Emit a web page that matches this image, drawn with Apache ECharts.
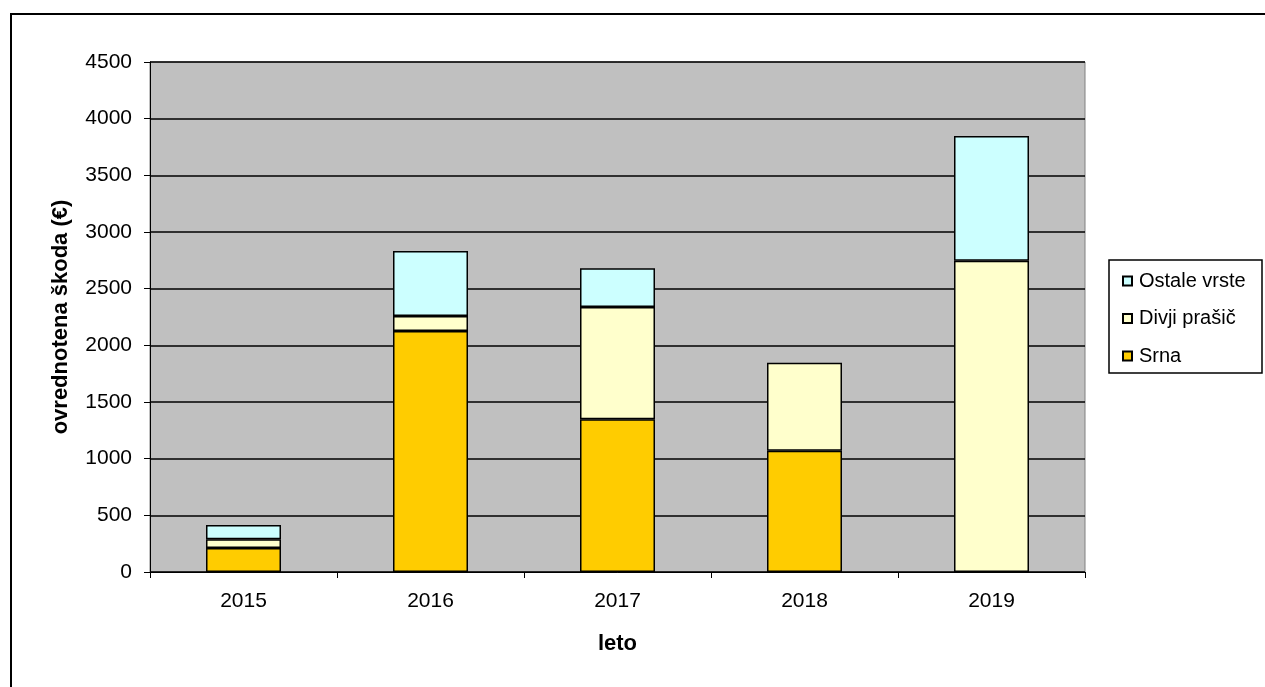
<!DOCTYPE html>
<html><head><meta charset="utf-8">
<script src="https://cdn.jsdelivr.net/npm/echarts@6/dist/echarts.min.js"></script>
<style>html,body{margin:0;padding:0;background:#fff}#c{width:1265px;height:687px}</style>
</head><body><div id="c"></div>
<script>
const categories = ['2015','2016','2017','2018','2019'];
const srna = [212, 2127, 1347, 1070, null];
const divjiPrasic = [76, 132, 991, 777, 2747];
const ostaleVrste = [127, 573, 342, null, 1100];
const yTicks = [0, 500, 1000, 1500, 2000, 2500, 3000, 3500, 4000, 4500];

const chart = echarts.init(document.getElementById('c'));
const font = 'Liberation Sans, Arial, sans-serif';
const bar = (name, data, color) => ({
  name, type: 'bar', stack: 'a', data, barWidth: 75,
  itemStyle: {color, borderColor: '#000', borderWidth: 1.5},
  emphasis: {disabled: true}
});
chart.setOption({
  animation: false,
  textStyle: {fontFamily: font},
  graphic: [
    {type: 'rect', shape: {x: 11, y: 14, width: 1270, height: 690}, style: {fill: 'none', stroke: '#000', lineWidth: 2}, silent: true},
    {type: 'rect', shape: {x: 150, y: 62, width: 935, height: 510}, style: {fill: '#c0c0c0', stroke: '#808080', lineWidth: 1}, silent: true, z: -10},
    {type: 'rect', shape: {x: 1109, y: 260, width: 153, height: 113}, style: {fill: '#fff', stroke: '#000', lineWidth: 1.5}, silent: true, z: -5}
  ],
  grid: {left: 150, top: 62, width: 935, height: 510},
  xAxis: {type: 'category', data: categories,
    axisLine: {lineStyle: {color: '#000', width: 1}},
    axisTick: {show: true, length: 6, lineStyle: {color: '#000'}},
    axisLabel: {color: '#000', fontSize: 21, margin: 19, fontFamily: font},
    name: 'leto', nameLocation: 'middle', nameGap: 61,
    nameTextStyle: {color: '#000', fontSize: 22, fontWeight: 'bold', fontFamily: font}},
  yAxis: {type: 'value', min: yTicks[0], max: yTicks[yTicks.length-1], interval: 500,
    axisLine: {show: true, lineStyle: {color: '#000', width: 1}},
    axisTick: {show: true, length: 6, lineStyle: {color: '#000'}},
    axisLabel: {color: '#000', fontSize: 21, margin: 18, fontFamily: font, formatter: v => String(v)},
    splitLine: {lineStyle: {color: '#000', width: 1.5}},
    splitArea: {show: false},
    name: 'ovrednotena škoda (€)', nameLocation: 'middle', nameGap: 78, nameRotate: 90,
    nameTextStyle: {color: '#000', fontSize: 22, fontWeight: 'bold', fontFamily: font}},
  legend: {orient: 'vertical', left: 1122, top: 271,
    data: ['Ostale vrste', 'Divji prašič', 'Srna'],
    itemWidth: 9, itemHeight: 9, itemGap: 17.5,
    padding: 0,
    icon: 'rect',
    textStyle: {color: '#000', fontSize: 20, fontFamily: font, padding: [0,0,0,2]}},
  series: [
    bar('Srna', srna, '#ffcc00'),
    bar('Divji prašič', divjiPrasic, '#ffffcc'),
    bar('Ostale vrste', ostaleVrste, '#ccffff')
  ]
});
</script></body></html>
